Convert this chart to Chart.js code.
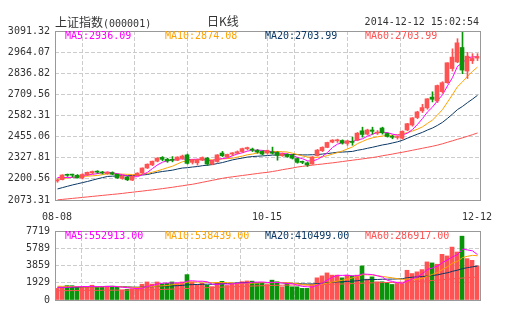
<!DOCTYPE html>
<html>
<head>
<meta charset="utf-8">
<script src="https://cdn.jsdelivr.net/npm/chart.js@4.4.1/dist/chart.umd.min.js"></script>
<style>
  body { margin: 0; background: #fff; }
  #wrap { position: relative; width: 505px; height: 330px; overflow: hidden;
          font-family: "DejaVu Sans Mono", monospace; font-size: 10px; color: #333; }
  #wrap canvas { position: absolute; left: 0; }
  .t { position: absolute; white-space: nowrap; line-height: 12px; }
  .cjk { font-family: "Noto Sans CJK SC", sans-serif; font-size: 12px; }
</style>
</head>
<body>
<div id="wrap">
  <canvas id="kline" width="505" height="225" style="top:0"></canvas>
  <canvas id="vol" width="505" height="110" style="top:220px"></canvas>
  <div class="t" style="left:55px;top:16px"><span class="cjk">上证指数</span>(000001)</div>
  <div class="t cjk" style="left:207px;top:15px">日K线</div>
  <div class="t" style="right:26px;top:16px">2014-12-12 15:02:54</div>
  <div id="legK"></div>
  <div id="legV"></div>
</div>
<script>
// trading days shown on the chart
const dates = [
  '08-08','08-11','08-12','08-13','08-14','08-15','08-18','08-19','08-20','08-21','08-22','08-25','08-26','08-27','08-28','08-29',
  '09-01','09-02','09-03','09-04','09-05','09-09','09-10','09-11','09-12','09-15','09-16','09-17','09-18','09-19',
  '09-22','09-23','09-24','09-25','09-26','09-29','09-30',
  '10-08','10-09','10-10','10-13','10-14','10-15','10-16','10-17','10-20','10-21','10-22','10-23','10-24','10-27','10-28','10-29','10-30','10-31',
  '11-03','11-04','11-05','11-06','11-07','11-10','11-11','11-12','11-13','11-14','11-17','11-18','11-19','11-20','11-21','11-24','11-25','11-26','11-27','11-28',
  '12-01','12-02','12-03','12-04','12-05','12-08','12-09','12-10','12-11','12-12'
];

const openP = [2188,2196,2226,2225,2222,2206,2224,2236,2244,2242, 2232,2238,2228,2203,2212,2193,2220,2236,2266,2285,
  2307,2330,2319,2316,2312,2324,2345,2300,2297,2313, 2325,2290,2305,2356,2333,2350,2355,2365,2382,2379,
  2372,2366,2356,2363,2360,2340,2348,2342,2323,2303, 2297,2290,2340,2370,2390,2422,2430,2432,2414,2425,
  2433,2490,2470,2495,2476,2507,2474,2456,2450,2445, 2495,2525,2570,2610,2628,2693,2670,2726,2780,2865,
  2905,2992,2850,2912,2928];
const highP = [2200,2226,2230,2229,2227,2232,2242,2248,2250,2246, 2243,2243,2231,2220,2216,2220,2238,2267,2291,2308,
  2328,2335,2325,2335,2334,2344,2350,2318,2320,2333, 2330,2313,2347,2366,2350,2359,2369,2386,2392,2386,
  2378,2370,2375,2392,2365,2357,2352,2348,2327,2308, 2302,2335,2378,2394,2422,2437,2440,2436,2432,2452,
  2480,2512,2500,2512,2492,2512,2478,2463,2458,2490, 2535,2570,2608,2650,2684,2725,2766,2786,2900,2984,
  3045,3091.32,2963,2955,2955];
const lowP = [2180,2194,2215,2212,2205,2200,2220,2230,2233,2230, 2228,2226,2203,2198,2190,2190,2217,2233,2263,2280,
  2303,2310,2300,2303,2310,2318,2290,2290,2283,2310, 2280,2285,2300,2335,2328,2340,2350,2360,2375,2365,
  2355,2345,2350,2350,2313,2336,2330,2320,2295,2292, 2275,2288,2338,2365,2388,2418,2420,2410,2403,2403,
  2430,2452,2465,2470,2468,2470,2452,2442,2440,2440, 2490,2518,2563,2600,2620,2664,2660,2717,2776,2850,
  2900,2834,2805,2895,2913];
const closeP = [2194,2224,2222,2223,2207,2227,2240,2245,2241,2236, 2241,2229,2207,2218,2195,2217,2235,2266,2289,2307,
  2326,2318,2308,2312,2332,2338,2294,2315,2317,2329, 2290,2310,2345,2340,2348,2357,2364,2383,2389,2374,
  2362,2350,2372,2355,2342,2350,2335,2325,2300,2300, 2285,2332,2374,2391,2420,2434,2432,2416,2430,2420,
  2476,2468,2495,2487,2480,2478,2456,2451,2453,2487, 2533,2568,2604,2630,2683,2680,2763,2780,2900,2934,
  3020,2856,2940,2926,2938];

// moving average lines of the price
const ma5 = [2209,2209,2209,2210,2214,2221,2224,2228,2232,2238, 2241,2238,2231,2226,2218,2213,2214,2226,2240,2263,
  2285,2301,2310,2314,2319,2322,2317,2318,2319,2319, 2309,2312,2318,2323,2327,2340,2351,2358,2368,2373,
  2374,2372,2369,2363,2356,2354,2351,2341,2330,2322, 2309,2308,2318,2336,2360,2390,2410,2419,2426,2426,
  2435,2442,2458,2469,2481,2482,2479,2470,2464,2465, 2476,2498,2529,2564,2604,2633,2672,2707,2761,2811,
  2879,2898,2930,2935,2936.09];
const ma10 = [2198,2202,2206,2210,2211,2215,2217,2219,2221,2226, 2231,2231,2230,2229,2228,2227,2226,2229,2233,2241,
  2249,2258,2268,2277,2291,2304,2309,2314,2317,2319, 2316,2315,2318,2321,2323,2325,2332,2338,2346,2350,
  2357,2362,2364,2366,2365,2364,2362,2355,2347,2339, 2332,2330,2330,2333,2341,2350,2359,2369,2381,2393,
  2413,2426,2439,2448,2454,2459,2461,2464,2467,2473, 2479,2489,2500,2514,2535,2555,2585,2618,2663,2708,
  2756,2785,2819,2848,2874.08];
const ma20 = [2140,2148,2156,2164,2171,2178,2185,2193,2201,2208, 2215,2217,2218,2220,2220,2221,2222,2224,2227,2234,
  2240,2245,2249,2253,2260,2266,2268,2272,2275,2280, 2283,2287,2293,2299,2307,2315,2321,2326,2332,2335,
  2337,2339,2341,2344,2344,2345,2347,2347,2347,2345, 2345,2346,2347,2350,2353,2357,2361,2362,2364,2366,
  2373,2378,2385,2391,2398,2405,2410,2417,2424,2433, 2446,2458,2470,2481,2495,2507,2523,2541,2565,2591,
  2618,2637,2660,2681,2703.99];
const ma60 = [2074,2077,2080,2083,2086,2089,2092,2095,2098,2101, 2104,2107,2110,2113,2117,2120,2124,2127,2131,2134,
  2138,2142,2146,2150,2155,2159,2164,2168,2174,2180, 2186,2192,2198,2204,2209,2213,2217,2221,2225,2229,
  2233,2237,2240,2245,2250,2256,2261,2266,2272,2276, 2280,2283,2287,2290,2294,2297,2301,2305,2309,2313,
  2317,2321,2325,2329,2334,2340,2345,2350,2356,2361, 2367,2373,2379,2385,2391,2397,2404,2412,2421,2430,
  2439,2448,2457,2467,2477];

// volume (axis units) and its moving averages
const volume = [1300,1400,1610,1600,1450,1450,1450,1650,1450,1450, 1540,1540,1480,1130,1200,1260,1350,1760,2020,1780,
  2020,1820,1870,2020,1870,2020,2840,2020,1760,1870, 1650,1500,1980,2090,1630,1810,1870,2050,2130,2110,
  1850,1960,1740,2220,2040,1480,1850,1480,1480,1300, 1300,1740,2480,2700,3030,2780,2780,2480,2780,2700,
  2780,3810,2330,2590,2040,2040,1960,1740,1850,1850, 3330,2960,3150,3400,4260,4150,4000,5110,4930,5920,
  5370,7140,4630,4440,3810];
const volMa5 = [1420,1410,1420,1450,1472,1502,1512,1520,1490,1490, 1508,1526,1492,1428,1378,1322,1284,1340,1518,1634,
  1786,1880,1902,1902,1920,1920,2124,2154,2102,2102, 2028,1760,1752,1818,1770,1802,1876,1890,1898,1994,
  2002,2020,1958,1976,1962,1888,1866,1814,1666,1518, 1482,1460,1660,1904,2250,2546,2754,2754,2770,2704,
  2704,2910,2880,2842,2710,2562,2192,2074,1926,1888, 2146,2346,2628,2938,3420,3584,3792,4184,4490,4822,
  5066,5694,5598,5500,5078];
const volMa10 = [1540,1530,1520,1510,1500,1461,1461,1470,1470,1481, 1505,1519,1506,1459,1434,1415,1405,1416,1473,1506,
  1554,1582,1621,1710,1777,1853,2002,2028,2002,2011, 1974,1942,1953,1960,1936,1915,1818,1821,1858,1882,
  1902,1948,1924,1937,1978,1945,1943,1886,1821,1740, 1685,1663,1737,1785,1884,2014,2107,2207,2337,2477,
  2625,2832,2817,2806,2707,2633,2551,2477,2384,2299, 2354,2269,2351,2432,2654,2865,3069,3406,3714,4121,
  4325,4743,4891,4995,4950];
const volMa20 = [1420,1428,1436,1444,1452,1460,1470,1480,1492,1506, 1523,1525,1513,1485,1467,1438,1433,1443,1472,1494,
  1530,1551,1564,1585,1606,1634,1704,1722,1738,1759, 1764,1762,1787,1835,1857,1884,1910,1925,1930,1947,
  1938,1945,1939,1949,1957,1930,1881,1854,1840,1811, 1794,1806,1831,1861,1931,1980,2025,2047,2079,2109,
  2155,2248,2277,2296,2296,2324,2329,2342,2361,2388, 2490,2551,2584,2619,2681,2749,2810,2942,3049,3210,
  3340,3506,3621,3714,3802];
const volMa60 = [1040,1045,1050,1055,1060,1065,1070,1075,1080,1085, 1090,1095,1100,1100,1105,1110,1115,1125,1135,1150,
  1165,1180,1200,1220,1240,1260,1290,1315,1340,1360, 1380,1400,1420,1445,1465,1485,1505,1525,1545,1565,
  1585,1600,1615,1630,1645,1655,1665,1670,1675,1680, 1685,1690,1700,1715,1735,1755,1775,1795,1815,1835,
  1855,1880,1900,1920,1935,1950,1960,1970,1980,1990, 2015,2040,2070,2100,2140,2180,2220,2270,2320,2370,
  2410,2460,2500,2530,2560];

const priceTicks = [3091.32, 2964.07, 2836.82, 2709.56, 2582.31, 2455.06, 2327.81, 2200.56, 2073.31];
const volTicks = [7719, 5789, 3859, 1929, 0];
const dateTicks = ['08-08', '10-15', '12-12'];
const vDivisions = 8;

const priceLegend = ['MA5:2936.09', 'MA10:2874.08', 'MA20:2703.99', 'MA60:2703.99'];
const volLegend = ['MA5:552913.00', 'MA10:538439.00', 'MA20:410499.00', 'MA60:286917.00'];
const maColors = ['#ff00ff', '#ffa200', '#0b3865', '#ff5252'];

const RED = '#ff5353';
const GREEN = '#0a940a';
const candleColors = openP.map((o, i) => closeP[i] >= o ? RED : GREEN);

function addLegend(id, texts, top) {
  const box = document.getElementById(id);
  texts.forEach((txt, k) => {
    const d = document.createElement('div');
    d.className = 't';
    d.style.left = (65 + k * 100) + 'px';
    d.style.top = top + 'px';
    d.style.color = maColors[k];
    d.textContent = txt;
    box.appendChild(d);
  });
}
addLegend('legK', priceLegend, 30);
addLegend('legV', volLegend, 230);

Chart.defaults.font.family = 'DejaVu Sans Mono';
Chart.defaults.font.size = 10;
Chart.defaults.color = '#333';

const gridColor = '#cccccc';
const clear = 'rgba(0,0,0,0)';

// frame around the plot area
const frame = {
  id: 'frame',
  afterDraw(chart) {
    const ctx = chart.ctx;
    const a = chart.chartArea;
    ctx.save();
    ctx.strokeStyle = '#999';
    ctx.lineWidth = 1;
    ctx.strokeRect(a.left + 0.5, a.top + 0.5, a.right - a.left, a.bottom - a.top);
    ctx.restore();
  }
};

// x axis: date labels plus evenly split grid ticks (grid ticks carry no label)
function xAxis(showLabels) {
  return {
    type: 'linear', min: -0.4, max: 84.6, position: 'bottom', offset: false,
    afterBuildTicks: s => {
      const lo = s.options.min, hi = s.options.max;
      const list = showLabels ? dateTicks.map(d => ({ value: dates.indexOf(d), label: d })) : [];
      for (let k = 1; k < vDivisions; k++) list.push({ value: lo + (hi - lo) * k / vDivisions, label: '' });
      list.sort((p, q) => p.value - q.value);
      s.ticks = list;
    },
    ticks: { autoSkip: false, maxRotation: 0, padding: 11, callback: (v, i, t) => t[i].label },
    grid: { display: true, drawTicks: false, color: c => (c.tick && c.tick.label === '') ? gridColor : clear },
    border: { display: false, dash: [4, 2] },
    afterFit: s => { s.height = showLabels ? 25 : 0; }
  };
}

function yAxis(ticks, fmt) {
  const n = ticks.length - 1;
  return {
    min: ticks[n], max: ticks[0],
    afterBuildTicks: s => { s.ticks = ticks.slice().reverse().map(v => ({ value: v })); },
    ticks: { autoSkip: false, padding: 5, callback: fmt },
    grid: { drawTicks: false, color: c => (c.index === 0 || c.index === n) ? clear : gridColor },
    border: { display: false, dash: [4, 2] },
    afterFit: s => { s.width = 55; }
  };
}

const lineSet = (arr, k) => ({
  type: 'line', data: arr.map((v, i) => ({ x: i, y: v })), xAxisID: 'xw', yAxisID: 'y',
  borderColor: maColors[k], borderWidth: 1, pointRadius: 0, tension: 0
});

const candleLines = [ma5, ma10, ma20, ma60].map((a, k) => Object.assign(lineSet(a, k), { order: 2 }));

new Chart(document.getElementById('kline'), {
  type: 'bar',
  data: {
    datasets: [
      ...candleLines,
      { // wicks
        data: lowP.map((l, i) => ({ x: i, y: [l, highP[i]] })), xAxisID: 'xw', yAxisID: 'y',
        backgroundColor: candleColors, grouped: false, barThickness: 1, maxBarThickness: 1, order: 1
      },
      { // bodies
        data: openP.map((o, i) => ({ x: i, y: [o, closeP[i]] })), xAxisID: 'x', yAxisID: 'y',
        backgroundColor: candleColors, grouped: false, barThickness: 4, maxBarThickness: 4,
        minBarLength: 1, order: 0
      }
    ]
  },
  options: {
    responsive: false, animation: false, devicePixelRatio: 1, events: [],
    layout: { padding: { top: 31, right: 25, left: 0, bottom: 0 } },
    plugins: { legend: { display: false }, tooltip: { enabled: false } },
    scales: {
      x: xAxis(true),
      xw: { type: 'linear', min: -0.5, max: 84.5, display: false, offset: false },
      y: yAxis(priceTicks, v => v.toFixed(2))
    }
  },
  plugins: [frame]
});

const volLines = [volMa5, volMa10, volMa20, volMa60].map((a, k) => Object.assign(lineSet(a, k), { order: 0 }));

new Chart(document.getElementById('vol'), {
  type: 'bar',
  data: {
    datasets: [
      ...volLines,
      {
        data: volume.map((v, i) => ({ x: i, y: v })), xAxisID: 'x', yAxisID: 'y',
        backgroundColor: candleColors, grouped: false, barThickness: 4, maxBarThickness: 4, order: 1
      }
    ]
  },
  options: {
    responsive: false, animation: false, devicePixelRatio: 1, events: [],
    layout: { padding: { top: 11, right: 25, left: 0, bottom: 30 } },
    plugins: { legend: { display: false }, tooltip: { enabled: false } },
    scales: {
      x: xAxis(false),
      xw: { type: 'linear', min: -0.5, max: 84.5, display: false, offset: false },
      y: yAxis(volTicks, v => String(v))
    }
  },
  plugins: [frame]
});
</script>
</body>
</html>
